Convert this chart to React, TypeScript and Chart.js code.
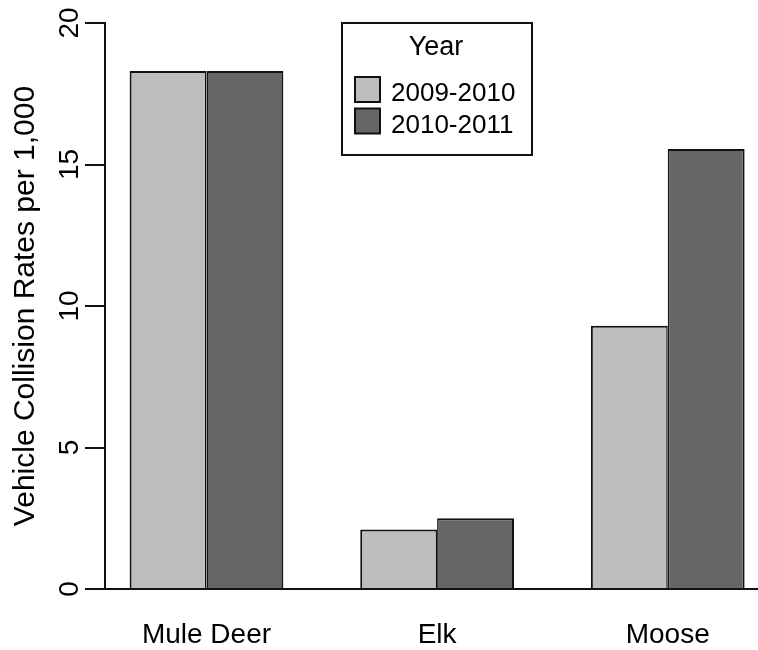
import React, { useEffect, useRef } from 'react';
import { Chart, registerables } from 'chart.js';

Chart.register(...registerables);

const categories = ['Mule Deer', 'Elk', 'Moose'];
const seriesLabels = ['2009-2010', '2010-2011'];
const rates2009 = [18.3, 2.1, 9.3];
const rates2010 = [18.3, 2.5, 15.55];
const yTicks = [0, 5, 10, 15, 20];
const legendTitle = 'Year';
const yTitle = 'Vehicle Collision Rates per 1,000';

const FONT = '"Liberation Sans", Arial, Helvetica, sans-serif';
const colors = ['#BEBEBE', '#666666'];
const EDGE = '#111111';

// R barplot layout: each group = 2 bars of width 1, 1 unit gap before each group
const groupCenter = (i: number) => 2 + 3 * i;

export default function App() {
  const ref = useRef<HTMLCanvasElement | null>(null);

  useEffect(() => {
    if (!ref.current) return;

    const yLabelPlugin = {
      id: 'rYLabels',
      afterDraw(chart: any) {
        const { ctx } = chart;
        const ys = chart.scales.y;
        ctx.save();
        ctx.font = `28px ${FONT}`;
        ctx.fillStyle = '#000';
        ctx.textAlign = 'center';
        ctx.textBaseline = 'alphabetic';
        ys.ticks.forEach((t: any) => {
          const py = ys.getPixelForValue(t.value);
          ctx.save();
          ctx.translate(ys.right - 27, py);
          ctx.rotate(-Math.PI / 2);
          ctx.fillText(String(t.value), 0, 0);
          ctx.restore();
        });
        ctx.restore();
      },
    };

    const legendPlugin = {
      id: 'rLegend',
      afterDraw(chart: any) {
        const { ctx, chartArea } = chart;
        const left = 342;
        const top = chartArea.top;
        const w = 190;
        const h = 132;
        ctx.save();
        ctx.fillStyle = '#fff';
        ctx.fillRect(left, top, w, h);
        ctx.strokeStyle = '#111';
        ctx.lineWidth = 2;
        ctx.strokeRect(left, top, w, h);
        ctx.fillStyle = '#000';
        ctx.font = `27px ${FONT}`;
        ctx.textAlign = 'center';
        ctx.textBaseline = 'alphabetic';
        ctx.fillText(legendTitle, left + 94, top + 32);
        ctx.font = `26px ${FONT}`;
        ctx.textAlign = 'left';
        chart.data.datasets.forEach((ds: any, i: number) => {
          const sy = top + 54 + i * 31.5;
          ctx.fillStyle = ds.backgroundColor;
          ctx.fillRect(left + 13, sy, 25, 25);
          ctx.strokeStyle = '#111';
          ctx.lineWidth = 2;
          ctx.strokeRect(left + 13, sy, 25, 25);
          ctx.fillStyle = '#000';
          ctx.fillText(ds.label, left + 49, sy + 24);
        });
        ctx.restore();
      },
    };

    const chart = new Chart(ref.current, {
      type: 'bar',
      data: {
        datasets: [
          {
            label: seriesLabels[0],
            data: rates2009.map((v, i) => ({ x: groupCenter(i), y: v })),
            backgroundColor: colors[0],
            borderColor: EDGE,
            borderWidth: { top: 2, left: 2, right: 1.5, bottom: 0 },
            borderSkipped: 'start',
          },
          {
            label: seriesLabels[1],
            data: rates2010.map((v, i) => ({ x: groupCenter(i), y: v })),
            backgroundColor: colors[1],
            borderColor: EDGE,
            borderWidth: { top: 2, left: 1.5, right: 2, bottom: 0 },
            borderSkipped: 'start',
          },
        ],
      },
      options: {
        responsive: false,
        animation: false,
        devicePixelRatio: 1,
        layout: { padding: { top: 23, left: 0, right: 0, bottom: 0 } },
        datasets: {
          bar: { categoryPercentage: 2 / 3, barPercentage: 1 },
        },
        plugins: {
          legend: { display: false },
          tooltip: { enabled: false },
        },
        scales: {
          x: {
            type: 'linear',
            min: 0.68,
            max: 9.174,
            offset: false,
            grid: { display: false, drawTicks: false },
            border: { display: true, color: '#111', width: 2 },
            afterBuildTicks: (scale: any) => {
              scale.ticks = categories.map((_, i) => ({ value: groupCenter(i) }));
            },
            afterFit: (scale: any) => {
              scale.height = 61;
            },
            ticks: {
              autoSkip: false,
              maxRotation: 0,
              minRotation: 0,
              padding: 29,
              color: '#000',
              font: { family: FONT, size: 28 },
              callback: (_v: any, index: number) => categories[index],
            },
          },
          y: {
            type: 'linear',
            min: 0,
            max: 20,
            afterBuildTicks: (scale: any) => {
              scale.ticks = yTicks.map((v) => ({ value: v }));
            },
            afterFit: (scale: any) => {
              scale.width = 105;
            },
            grid: {
              drawOnChartArea: false,
              drawTicks: true,
              tickLength: 20,
              color: '#111',
              lineWidth: 2,
            },
            border: { display: true, color: '#111', width: 2 },
            ticks: { display: false },
            title: {
              display: true,
              text: yTitle,
              color: '#000',
              font: { family: FONT, size: 30 },
              padding: { top: 8, bottom: 0 },
            },
          },
        },
      },
      plugins: [yLabelPlugin, legendPlugin],
    } as any);

    return () => chart.destroy();
  }, []);

  return (
    <div style={{ position: 'absolute', left: 0, top: 0, width: 758, height: 650, background: '#fff' }}>
      <canvas ref={ref} width={758} height={650} style={{ display: 'block', width: 758, height: 650 }} />
    </div>
  );
}
